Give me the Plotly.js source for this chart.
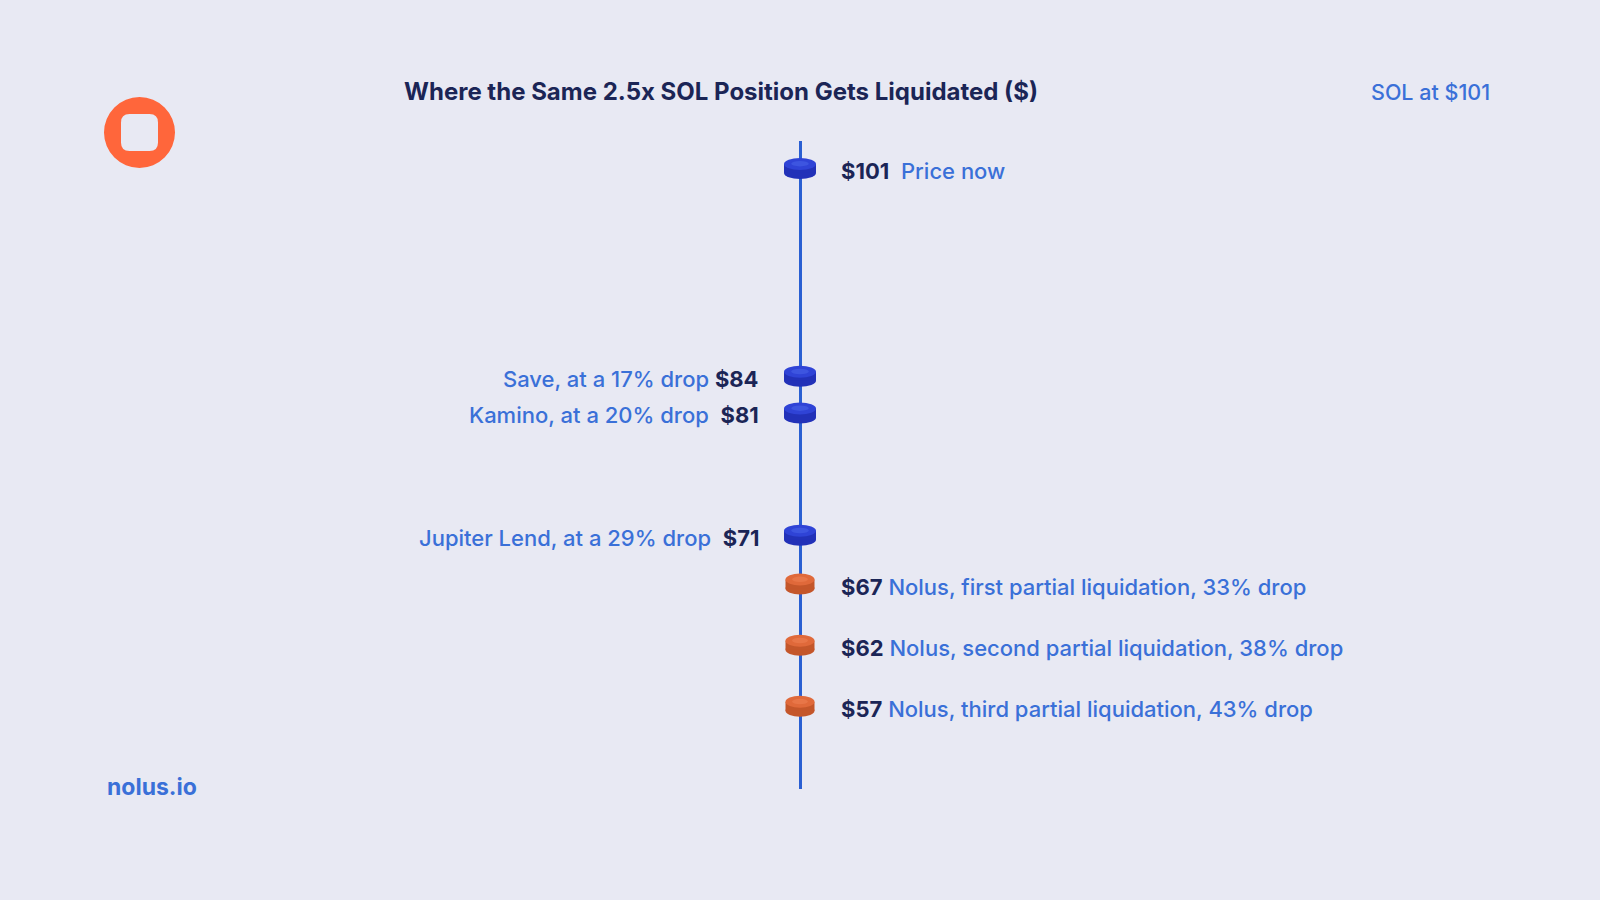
<!DOCTYPE html>
<html>
<head>
<meta charset="utf-8">
<script src="https://cdn.plot.ly/plotly-3.0.1.min.js"></script>
<style>html,body{margin:0;padding:0;background:#e8e9f3;}#chart{width:1600px;height:900px;}</style>
</head>
<body>
<div id="chart"></div>
<script>
// ---- data ----
const prices = [101, 84, 81, 71, 67, 62, 57];
const priceLabels = ["$101", "$84", "$81", "$71", "$67", "$62", "$57"];
const descriptions = [
  "Price now",
  "Save, at a 17% drop",
  "Kamino, at a 20% drop",
  "Jupiter Lend, at a 29% drop",
  "Nolus, first partial liquidation, 33% drop",
  "Nolus, second partial liquidation, 38% drop",
  "Nolus, third partial liquidation, 43% drop"
];
const sides = ["right", "left", "left", "left", "right", "right", "right"];
const groups = ["blue", "blue", "blue", "blue", "orange", "orange", "orange"];
const gaps = [2, 1, 2, 2, 1, 1, 1];
const titleText = "Where the Same 2.5x SOL Position Gets Liquidated ($)";
const currentLabel = "SOL at $101";
const brandText = "nolus.io";

// ---- styles ----
const BG = "#e8e9f3";
const NAVY = "#1b2556";
const BLUE_TXT = "#3a70d8";
const LINE = "#2a5fd2";
const coinColors = {
  blue: {side: "#2231b8", top: "#2f43d6", hi: "#3d55e0", w: 16},
  orange: {side: "#c4562a", top: "#e0693a", hi: "#e87648", w: 14.5}
};
const FONT = "Inter, 'Open Sans', sans-serif";

const shapes = [];
const annotations = [];

prices.forEach((p, i) => {
  const c = coinColors[groups[i]];
  const base = {xref: "x", yref: "y", xsizemode: "pixel", ysizemode: "pixel", xanchor: 0, yanchor: p, layer: "above", line: {width: 0}};
  shapes.push(Object.assign({}, base, {type: "circle", x0: -c.w, x1: c.w, y0: -11, y1: 1, fillcolor: c.side}));
  shapes.push(Object.assign({}, base, {type: "rect", x0: -c.w, x1: c.w, y0: -5, y1: 4, fillcolor: c.side}));
  shapes.push(Object.assign({}, base, {type: "circle", x0: -c.w, x1: c.w, y0: -2, y1: 10, fillcolor: c.top}));
  shapes.push(Object.assign({}, base, {type: "circle", x0: -c.w * 0.55, x1: c.w * 0.55, y0: 1.5, y1: 7, fillcolor: c.hi}));

  const gap = "&nbsp;".repeat(gaps[i]);
  const desc = "<span style='color:" + BLUE_TXT + "'>" + descriptions[i] + "</span>";
  const price = "<b>" + priceLabels[i] + "</b>";
  const right = sides[i] === "right";
  annotations.push({
    xref: "x", yref: "y", x: 0, y: p,
    text: right ? price + gap + desc : desc + gap + price,
    showarrow: false,
    xanchor: right ? "left" : "right",
    yanchor: "middle",
    xshift: right ? 39 : -39,
    yshift: -3,
    font: {family: FONT, size: 22, color: NAVY, weight: 500}
  });
});

// logo
shapes.push({type: "circle", xref: "paper", yref: "paper", xsizemode: "pixel", ysizemode: "pixel",
  xanchor: 139.5 / 1600, yanchor: (789 - 132.5) / 648, x0: -35.5, x1: 35.5, y0: -35.5, y1: 35.5,
  fillcolor: "#ff663b", line: {width: 0}});
shapes.push({type: "path", xref: "paper", yref: "paper", xsizemode: "pixel", ysizemode: "pixel",
  xanchor: 139.5 / 1600, yanchor: (789 - 132.5) / 648,
  path: "M -10,18.5 L 10,18.5 Q 18.5,18.5 18.5,10 L 18.5,-10 Q 18.5,-18.5 10,-18.5 L -10,-18.5 Q -18.5,-18.5 -18.5,-10 L -18.5,10 Q -18.5,18.5 -10,18.5 Z",
  fillcolor: BG, line: {width: 0}});

annotations.push({xref: "paper", yref: "paper", x: 1492 / 1600, y: (789 - 92) / 648,
  text: currentLabel, showarrow: false, xanchor: "right", yanchor: "middle",
  font: {family: FONT, size: 21.5, color: BLUE_TXT, weight: 500}});
annotations.push({xref: "paper", yref: "paper", x: 105 / 1600, y: (789 - 787) / 648,
  text: "<b>" + brandText + "</b>", showarrow: false, xanchor: "left", yanchor: "middle",
  font: {family: FONT, size: 23, color: BLUE_TXT}});

const trace = {
  type: "scatter", mode: "markers",
  x: prices.map(() => 0), y: prices,
  marker: {size: 30, opacity: 0},
  hovertext: descriptions, hoverinfo: "text+y",
  showlegend: false
};

const layout = {
  width: 1600, height: 900,
  paper_bgcolor: BG, plot_bgcolor: BG,
  margin: {l: 0, r: 0, t: 141, b: 111, pad: 0},
  title: {text: "<b>" + titleText + "</b>", x: 721 / 1600, xanchor: "center", xref: "container",
    y: 1 - 92 / 900, yanchor: "middle", yref: "container",
    font: {family: FONT, size: 24, color: NAVY}},
  xaxis: {range: [-1, 1], showgrid: false, showticklabels: false, zeroline: true,
    zerolinecolor: LINE, zerolinewidth: 3, fixedrange: true},
  yaxis: {range: [50.2, 103.2], showgrid: false, showticklabels: false, zeroline: false, fixedrange: true},
  shapes: shapes,
  annotations: annotations,
  showlegend: false
};

Plotly.newPlot("chart", [trace], layout, {displayModeBar: false, staticPlot: true});
</script>
</body>
</html>
